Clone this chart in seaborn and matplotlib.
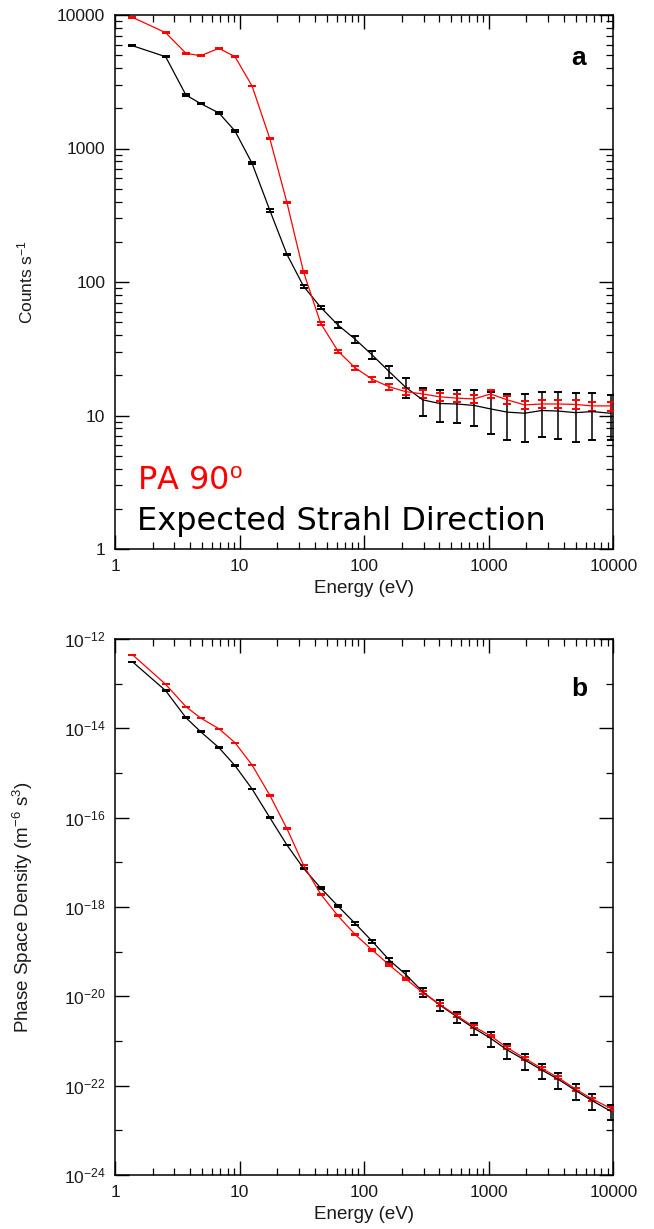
import numpy as np
import pandas as pd
import matplotlib
matplotlib.use("Agg")
import matplotlib.pyplot as plt
import matplotlib.ticker as mticker
import seaborn as sns

# =====================
# DATA
# =====================
energy = [1.38, 2.55, 3.71, 4.87, 6.83, 9.19, 12.6, 17.5, 24.0, 32.6, 44.8, 61.6,
          84.4, 116, 159, 215, 295, 404, 552, 761, 1035, 1407, 1942, 2659, 3615,
          4979, 6771, 9500]

# panel a: counts per second
strahl_counts = [5890, 4870, 2515, 2170, 1845, 1352, 774, 344, 161, 93, 64.6, 47.6,
                 37.4, 28.4, 21.3, 16.3, 13.1, 12.3, 12.2, 11.9, 11.2, 10.6, 10.4,
                 10.9, 10.8, 10.5, 10.7, 10.4]
strahl_counts_err = [60, 50, 30, 25, 22, 18, 12, 7, 2, 2.6, 2.0, 2.2, 2.3, 2.0, 2.2,
                     2.8, 3.1, 3.3, 3.4, 3.6, 3.9, 4.0, 4.1, 4.0, 4.1, 4.2, 4.1, 3.9]
pa90_counts = [9610, 7370, 5170, 4950, 5630, 4870, 2940, 1183, 393, 119, 49, 30.4,
               22.8, 18.7, 16.4, 15.1, 14.5, 13.8, 13.5, 13.3, 14.5, 13.1, 12.0,
               12.2, 12.2, 12.1, 11.8, 11.8]
pa90_counts_err = [50, 40, 30, 30, 30, 30, 20, 10, 4, 2, 1.0, 0.8, 0.8, 0.8, 0.8,
                   0.9, 0.9, 0.9, 0.9, 0.9, 0.9, 0.9, 0.9, 0.9, 0.9, 0.9, 0.9, 0.9]

# panel b: phase space density
strahl_psd = [3.1e-13, 6.97e-14, 1.73e-14, 8.4e-15, 3.69e-15, 1.46e-15, 4.39e-16,
              1.0e-16, 2.44e-17, 7.35e-18, 2.66e-18, 1.05e-18, 4.32e-19, 1.71e-19,
              6.51e-20, 3.11e-20, 1.27e-20, 6.41e-21, 3.51e-21, 1.93e-21, 1.15e-21,
              6.30e-22, 3.76e-22, 2.25e-22, 1.39e-22, 7.8e-23, 4.6e-23, 2.7e-23]
pa90_psd = [4.46e-13, 9.66e-14, 3.05e-14, 1.70e-14, 9.8e-15, 4.77e-15, 1.51e-15,
            3.16e-16, 5.67e-17, 8.7e-18, 1.93e-18, 6.35e-19, 2.45e-19, 1.09e-19,
            5.04e-20, 2.49e-20, 1.21e-20, 6.64e-21, 3.69e-21, 2.09e-21, 1.30e-21,
            7.09e-22, 4.10e-22, 2.45e-22, 1.51e-22, 8.4e-23, 5.03e-23, 3.12e-23]

x_ticks = [1, 10, 100, 1000, 10000]
x_ticklabels = ["1", "10", "100", "1000", "10000"]
a_yticks = [1, 10, 100, 1000, 10000]
a_yticklabels = ["1", "10", "100", "1000", "10000"]
b_yticks = [1e-24, 1e-22, 1e-20, 1e-18, 1e-16, 1e-14, 1e-12]
b_yticklabels = ["10$^{-24}$", "10$^{-22}$", "10$^{-20}$", "10$^{-18}$",
                 "10$^{-16}$", "10$^{-14}$", "10$^{-12}$"]
b_yminor = [1e-23, 1e-21, 1e-19, 1e-17, 1e-15, 1e-13]

df = pd.DataFrame({
    "energy": energy * 2,
    "counts": strahl_counts + pa90_counts,
    "counts_err": strahl_counts_err + pa90_counts_err,
    "psd": strahl_psd + pa90_psd,
    "series": ["strahl"] * len(energy) + ["pa90"] * len(energy),
})
# psd uncertainty follows the relative counting error
df["psd_err"] = df["psd"] * df["counts_err"] / df["counts"]

colors = {"strahl": "black", "pa90": "#ff0000"}

# =====================
# STYLE
# =====================
sns.set_theme(style="ticks")
plt.rcParams["font.family"] = ["Liberation Sans", "DejaVu Sans"]
plt.rcParams["mathtext.fontset"] = "custom"
plt.rcParams["mathtext.rm"] = "Liberation Sans"
plt.rcParams["mathtext.it"] = "Liberation Sans:italic"
plt.rcParams["mathtext.bf"] = "Liberation Sans:bold"
plt.rcParams["text.color"] = "#1a1a1a"
plt.rcParams["axes.labelcolor"] = "#1a1a1a"

W, H = 654, 1229
fig = plt.figure(figsize=(W / 100, H / 100), dpi=100)
ax_a = fig.add_axes([115 / W, 1 - 549 / H, (613.3 - 115) / W, 534 / H])
ax_b = fig.add_axes([115 / W, 1 - 1175 / H, (613.3 - 115) / W, 536 / H])


def draw(ax, ycol, errcol):
    for name in ["strahl", "pa90"]:
        sub = df[df["series"] == name]
        ax.errorbar(sub["energy"], sub[ycol], yerr=sub[errcol], fmt="none",
                    ecolor=colors[name], elinewidth=1.1, capsize=3.2,
                    capthick=1.4, zorder=3)
    sns.lineplot(data=df, x="energy", y=ycol, hue="series", palette=colors,
                 hue_order=["strahl", "pa90"], linewidth=0.9, legend=False,
                 ax=ax, zorder=4, sort=False, estimator=None)
    ax.set_xscale("log")
    ax.set_yscale("log")
    ax.set_xlim(1, 10000)
    ax.set_xticks(x_ticks)
    ax.set_xticklabels(x_ticklabels)
    ax.xaxis.set_minor_locator(mticker.LogLocator(base=10, subs=np.arange(2, 10)))
    ax.xaxis.set_minor_formatter(mticker.NullFormatter())
    ax.tick_params(which="both", direction="in", top=True, right=True,
                   labelsize=12.5, colors="black", labelcolor="#1a1a1a")
    ax.tick_params(which="major", length=10, width=1.0)
    ax.tick_params(which="minor", length=5, width=0.9)
    ax.tick_params(axis="x", pad=7)
    ax.tick_params(axis="y", pad=7)
    for s in ax.spines.values():
        s.set_linewidth(1.1)
        s.set_color("black")
    ax.set_xlabel("Energy (eV)", fontsize=13.5)
    ax.xaxis.set_label_coords(0.5, -0.058)


draw(ax_a, "counts", "counts_err")
ax_a.set_ylim(1, 10000)
ax_a.set_yticks(a_yticks)
ax_a.set_yticklabels(a_yticklabels)
ax_a.yaxis.set_minor_locator(mticker.LogLocator(base=10, subs=np.arange(2, 10)))
ax_a.yaxis.set_minor_formatter(mticker.NullFormatter())
ax_a.set_ylabel("Counts s$^{-1}$", fontsize=12.5)
ax_a.yaxis.set_label_coords(-0.16, 0.5)
ax_a.text(0.931, 0.906, "a", transform=ax_a.transAxes, fontsize=19,
          fontweight="bold", ha="center", va="baseline", color="black")
ax_a.text(0.044, 0.110, "PA 90$^{\\mathrm{o}}$", transform=ax_a.transAxes,
          fontsize=23, color="#ff0000", family="DejaVu Sans", va="baseline")
ax_a.text(0.044, 0.0356, "Expected Strahl Direction", transform=ax_a.transAxes,
          fontsize=23, color="black", family="DejaVu Sans", va="baseline")

draw(ax_b, "psd", "psd_err")
ax_b.set_ylim(1e-24, 1e-12)
ax_b.set_yticks(b_yticks)
ax_b.set_yticklabels(b_yticklabels)
ax_b.yaxis.set_minor_locator(mticker.FixedLocator(b_yminor))
ax_b.yaxis.set_minor_formatter(mticker.NullFormatter())
ax_b.set_ylabel("Phase Space Density (m$^{-6}$ s$^{3}$)", fontsize=13.5)
ax_b.yaxis.set_label_coords(-0.16, 0.5)
ax_b.text(0.931, 0.894, "b", transform=ax_b.transAxes, fontsize=19,
          fontweight="bold", ha="center", va="baseline", color="black")

plt.savefig("out.png", dpi=100)
plt.close()
